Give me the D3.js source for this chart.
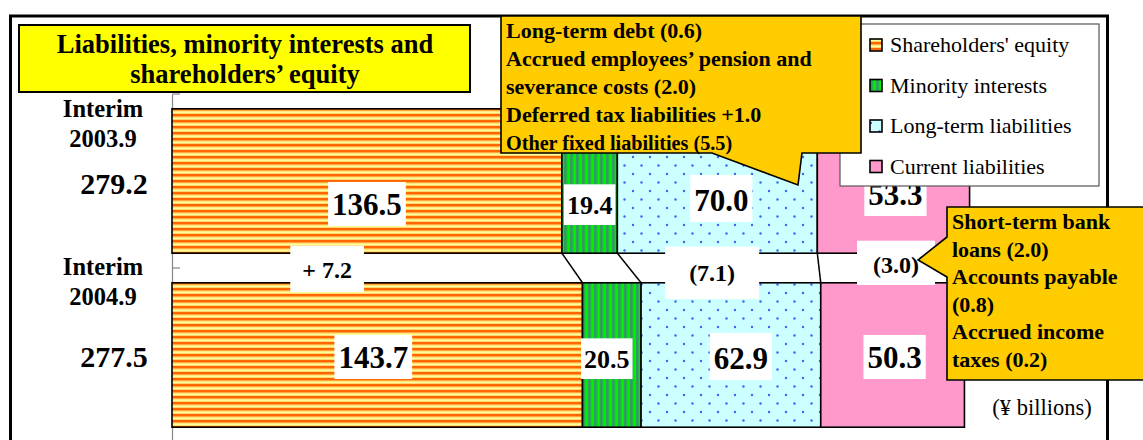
<!DOCTYPE html>
<html>
<head>
<meta charset="utf-8">
<script src="https://cdn.jsdelivr.net/npm/d3@7"></script>
<style>
  html, body { margin: 0; padding: 0; background: #fff; }
  svg { display: block; }
</style>
</head>
<body>
<svg id="chart" width="1143" height="440" font-family="Liberation Serif, Times New Roman, Times, DejaVu Serif, serif"></svg>
<script>
// ---------- data ----------
const periods = ["Interim 2003.9", "Interim 2004.9"];
const periodLines = [["Interim", "2003.9"], ["Interim", "2004.9"]];
const totals = [279.2, 277.5];
const seriesNames = ["Shareholders' equity", "Minority interests", "Long-term liabilities", "Current liabilities"];
const equity = [136.5, 143.7];
const minority = [19.4, 20.5];
const longTerm = [70.0, 62.9];
const current = [53.3, 50.3];
const changeLabels = ["+ 7.2", null, "(7.1)", "(3.0)"];
const titleLines = ["Liabilities, minority interests and", "shareholders\u2019 equity"];
const longTermNotes = ["Long-term debt (0.6)", "Accrued employees\u2019 pension and", "severance costs (2.0)", "Deferred tax liabilities +1.0", "Other fixed liabilities (5.5)"];
const currentNotes = ["Short-term bank", "loans (2.0)", "Accounts payable", "(0.8)", "Accrued income", "taxes (0.2)"];
const unitLabel = "(\u00a5 billions)";

// ---------- setup ----------
const svg = d3.select("#chart");
const defs = svg.append("defs");

// patterns
const pEq = defs.append("pattern").attr("id", "pEq").attr("patternUnits", "userSpaceOnUse").attr("width", 10).attr("height", 6);
pEq.append("rect").attr("width", 10).attr("height", 6).attr("fill", "#FFFF99");
pEq.append("rect").attr("y", 0).attr("width", 10).attr("height", 2.6).attr("fill", "#FF6600");
pEq.append("rect").attr("y", 2.6).attr("width", 10).attr("height", 0.7).attr("fill", "#FFB040");
pEq.append("rect").attr("y", 5.3).attr("width", 10).attr("height", 0.7).attr("fill", "#FFC860");

const pMi = defs.append("pattern").attr("id", "pMi").attr("patternUnits", "userSpaceOnUse").attr("width", 6).attr("height", 10);
pMi.append("rect").attr("width", 6).attr("height", 10).attr("fill", "#00F000");
pMi.append("rect").attr("x", 0).attr("width", 2.8).attr("height", 10).attr("fill", "#339966");
pMi.append("rect").attr("x", 2.8).attr("width", 0.6).attr("height", 10).attr("fill", "#22BB44");

const pLt = defs.append("pattern").attr("id", "pLt").attr("patternUnits", "userSpaceOnUse").attr("width", 17).attr("height", 17);
pLt.append("rect").attr("width", 17).attr("height", 17).attr("fill", "#CCFFFF");
pLt.append("circle").attr("cx", 4).attr("cy", 4).attr("r", 1.2).attr("fill", "#3366FF");
pLt.append("circle").attr("cx", 12.5).attr("cy", 12.5).attr("r", 1.2).attr("fill", "#3366FF");

const fills = ["url(#pEq)", "url(#pMi)", "url(#pLt)", "#FF99CC"];

// outer frame
svg.append("rect").attr("x", 10.5).attr("y", 16).attr("width", 1097).attr("height", 460)
  .attr("fill", "#fff").attr("stroke", "#000").attr("stroke-width", 3);

// scales
const x = d3.scaleLinear().domain([0, 300]).range([172, 1029]);
const y = d3.scaleBand().domain(periods).range([94, 442]).paddingInner(0.17).paddingOuter(0.085);

// axis
const yAxis = d3.axisRight(y).tickSize(0).tickFormat("");
const axG = svg.append("g").attr("transform", "translate(172,0)").call(yAxis);
axG.select(".domain").attr("stroke", "#888").attr("stroke-width", 1.2);
const tickYs = [94, 94 + y.step(), 94 + 2 * y.step()];
axG.selectAll("line.tk").data(tickYs).join("line").attr("class", "tk")
  .attr("x1", 0).attr("x2", 8).attr("y1", d => d).attr("y2", d => d)
  .attr("stroke", "#888").attr("stroke-width", 1.2);

// stacked data
const rows = periods.map((p, i) => ({ period: p, eq: equity[i], mi: minority[i], lt: longTerm[i], cl: current[i] }));
const stack = d3.stack().keys(["eq", "mi", "lt", "cl"])(rows);

const gBars = svg.append("g");
stack.forEach((layer, k) => {
  gBars.selectAll(null).data(layer).join("rect")
    .attr("x", d => x(d[0]))
    .attr("y", d => y(d.data.period))
    .attr("width", d => x(d[1]) - x(d[0]))
    .attr("height", y.bandwidth())
    .attr("fill", fills[k])
    .attr("stroke", "#000").attr("stroke-width", 1.6);
});

// connector lines between bars
for (let k = 0; k < 3; k++) {
  svg.append("line")
    .attr("x1", x(stack[k][0][1])).attr("y1", y(periods[0]) + y.bandwidth())
    .attr("x2", x(stack[k][1][1])).attr("y2", y(periods[1]))
    .attr("stroke", "#000").attr("stroke-width", 1.5);
}

// label helper: white box + bold text
function boxLabel(cx, baseline, txt, size, padX, padTop, padBottom) {
  const g = svg.append("g");
  const t = g.append("text").attr("x", cx).attr("y", baseline).attr("text-anchor", "middle")
    .attr("font-size", size).attr("font-weight", "bold").attr("fill", "#000").text(txt);
  const bb = t.node().getBBox();
  g.insert("rect", "text").attr("x", bb.x - padX).attr("y", baseline - size * 0.68 - padTop)
    .attr("width", bb.width + 2 * padX).attr("height", size * 0.68 + padTop + padBottom).attr("fill", "#fff");
}

// value labels
const valueSize = [[31, 26, 31, 31], [31, 26, 31, 31]];
const valueDx = [[0, 0, 4, 2], [-4, -5, 10, 2]];
const valueBase = [[215, 214, 211, 205], [368, 368, 369, 368]];
stack.forEach((layer, k) => {
  layer.forEach((d, i) => {
    const cx = (x(d[0]) + x(d[1])) / 2 + valueDx[i][k];
    const v = d[1] - d[0];
    boxLabel(cx, valueBase[i][k], v.toFixed(1), valueSize[i][k], k === 1 ? 3 : 4, k === 2 ? 15 : 12, 11);
  });
});

// change labels between bars
const changeDx = [-45, 0, -12, 3];
const changeBase = [278, 0, 281, 273];
const changePad = [[12, 16, 14], null, [24, 18, 18], [16, 16, 12]];
changeLabels.forEach((lbl, k) => {
  if (!lbl) return;
  const c0 = (x(stack[k][0][0]) + x(stack[k][0][1])) / 2;
  const c1 = (x(stack[k][1][0]) + x(stack[k][1][1])) / 2;
  boxLabel((c0 + c1) / 2 + changeDx[k], changeBase[k], lbl, 24, changePad[k][0], changePad[k][1], changePad[k][2]);
});

// left period labels
const leftOff = [[8, 38, 85], [-8, 22, 84]];
periods.forEach((p, i) => {
  const y0 = y(p);
  svg.append("text").attr("x", 103).attr("y", y0 + leftOff[i][0]).attr("text-anchor", "middle")
    .attr("font-size", 24.5).attr("font-weight", "bold").text(periodLines[i][0]);
  svg.append("text").attr("x", 103).attr("y", y0 + leftOff[i][1]).attr("text-anchor", "middle")
    .attr("font-size", 24.5).attr("font-weight", "bold").text(periodLines[i][1]);
  svg.append("text").attr("x", 114).attr("y", y0 + leftOff[i][2]).attr("text-anchor", "middle")
    .attr("font-size", 30).attr("font-weight", "bold").text(totals[i].toFixed(1));
});

// title box
svg.append("rect").attr("x", 19).attr("y", 25).attr("width", 451).attr("height", 67)
  .attr("fill", "#FFFF00").attr("stroke", "#000").attr("stroke-width", 2);
titleLines.forEach((t, i) => {
  svg.append("text").attr("x", 245).attr("y", 53 + i * 30).attr("text-anchor", "middle")
    .attr("font-size", 26.5).attr("font-weight", "bold").text(t);
});

// legend
const lg = svg.append("g");
lg.append("rect").attr("x", 840).attr("y", 24).attr("width", 259).attr("height", 162)
  .attr("fill", "#fff").attr("stroke", "#555").attr("stroke-width", 1.2);
seriesNames.forEach((n, k) => {
  const cy = 45 + k * 40.5;
  lg.append("rect").attr("x", 870).attr("y", cy - 6).attr("width", 12).attr("height", 12)
    .attr("fill", fills[k]).attr("stroke", "#000").attr("stroke-width", 1.6);
  lg.append("text").attr("x", 890).attr("y", cy + 7).attr("font-size", 22).text(n);
});

// callout 1 (long-term liabilities)
svg.append("path")
  .attr("d", "M501,16 H861 V153 H802 L798,185 L712,153 H501 Z")
  .attr("fill", "#FFCC00").attr("stroke", "#000").attr("stroke-width", 1.6);
longTermNotes.forEach((t, i) => {
  svg.append("text").attr("x", 506).attr("y", 38 + i * 28)
    .attr("font-size", i === 4 ? 20.2 : 22).attr("font-weight", "bold").text(t);
});

// callout 2 (current liabilities)
svg.append("path")
  .attr("d", "M947,207 H1150 V380 H947 V277 L918,260 L947,237 Z")
  .attr("fill", "#FFCC00").attr("stroke", "#000").attr("stroke-width", 1.6);
currentNotes.forEach((t, i) => {
  svg.append("text").attr("x", 952).attr("y", 229 + i * 27.6)
    .attr("font-size", 22).attr("font-weight", "bold").text(t);
});

// unit
svg.append("text").attr("x", 1042).attr("y", 415).attr("text-anchor", "middle")
  .attr("font-size", 22.5).text(unitLabel);
</script>
</body>
</html>
